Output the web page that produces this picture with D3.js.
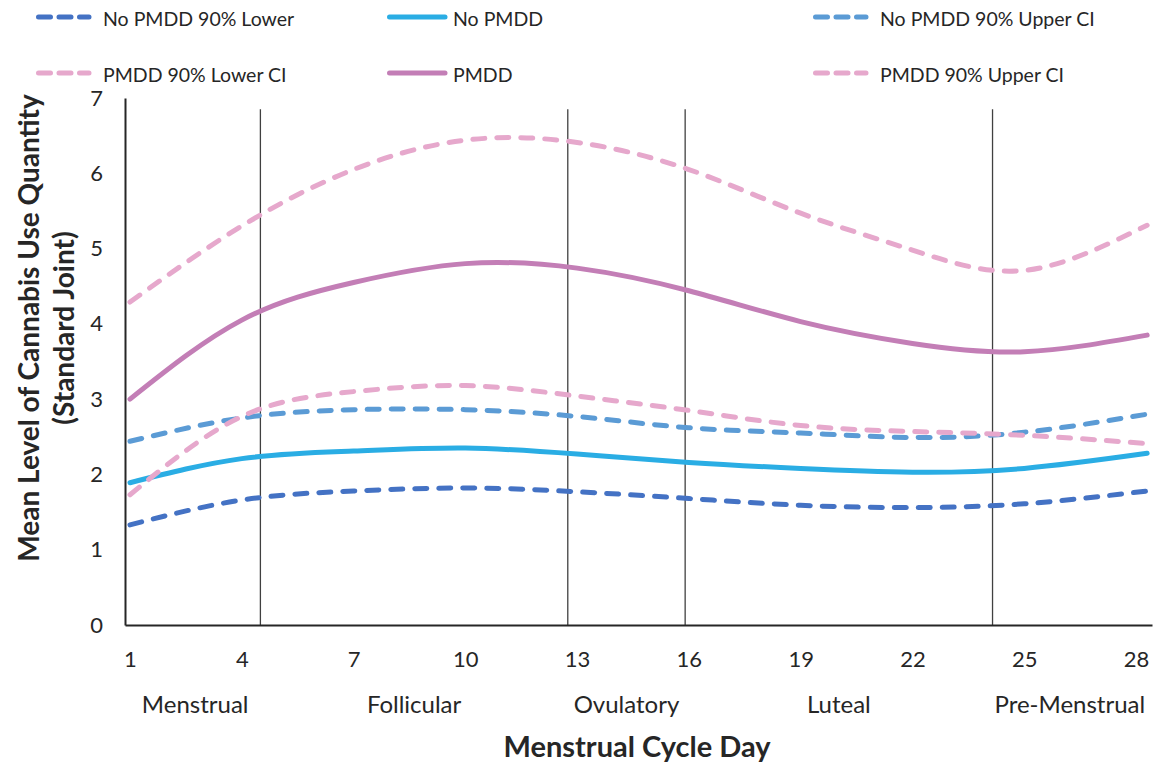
<!DOCTYPE html>
<html>
<head>
<meta charset="utf-8">
<script src="https://cdn.jsdelivr.net/npm/d3@7/dist/d3.min.js"></script>
<style>
  body { margin: 0; background: #fff; }
  text { font-family: Lato, "Open Sans", sans-serif; fill: #262626; }
</style>
</head>
<body>
<script>
const days = [1, 4, 7, 10, 13, 16, 19, 22, 25, 28.3];

const noPmddLower = [1.33, 1.66, 1.78, 1.82, 1.77, 1.68, 1.59, 1.56, 1.61, 1.78];
const noPmdd      = [1.89, 2.21, 2.31, 2.35, 2.27, 2.16, 2.08, 2.03, 2.08, 2.28];
const noPmddUpper = [2.44, 2.75, 2.86, 2.86, 2.77, 2.62, 2.55, 2.49, 2.56, 2.80];
const pmddLower   = [1.73, 2.77, 3.10, 3.18, 3.04, 2.85, 2.65, 2.57, 2.52, 2.41];
const pmdd        = [3.00, 4.05, 4.55, 4.80, 4.74, 4.44, 4.03, 3.74, 3.63, 3.85];
const pmddUpper   = [4.29, 5.30, 6.05, 6.44, 6.41, 6.05, 5.47, 4.98, 4.71, 5.31];

const xTicks = [1, 4, 7, 10, 13, 16, 19, 22, 25, 28];
const yTicks = [0, 1, 2, 3, 4, 5, 6, 7];

// phase boundaries (vertical lines) and names
const phaseBreaks = [4.5, 12.75, 15.9, 24.15];
const phaseNames = ["Menstrual", "Follicular", "Ovulatory", "Luteal", "Pre-Menstrual"];

const series = [
  {name: "No PMDD 90% Lower",    values: noPmddLower, color: "#4472c4", dashed: true,  col: 0, row: 0},
  {name: "No PMDD",              values: noPmdd,      color: "#2aade4", dashed: false, col: 1, row: 0},
  {name: "No PMDD 90% Upper CI", values: noPmddUpper, color: "#5b9bd5", dashed: true,  col: 2, row: 0},
  {name: "PMDD 90% Lower CI",    values: pmddLower,   color: "#e6a8cc", dashed: true,  col: 0, row: 1},
  {name: "PMDD",                 values: pmdd,        color: "#c37eb6", dashed: false, col: 1, row: 1},
  {name: "PMDD 90% Upper CI",    values: pmddUpper,   color: "#e6a8cc", dashed: true,  col: 2, row: 1}
];

const W = 1173, H = 763;
const svg = d3.select("body").append("svg")
  .attr("width", W)
  .attr("height", H);

const x = d3.scaleLinear().domain([0.866, 28.43]).range([125, 1152]);
const y = d3.scaleLinear().domain([0, 7]).range([625, 98]);

// phase divider lines
svg.selectAll(".phase-line")
  .data(phaseBreaks)
  .join("line")
  .attr("class", "phase-line")
  .attr("x1", d => x(d)).attr("x2", d => x(d))
  .attr("y1", y(6.85)).attr("y2", y(0))
  .attr("stroke", "#404040")
  .attr("stroke-width", 1.3);

// axes
const xAxis = svg.append("g")
  .attr("transform", "translate(0," + y(0) + ")")
  .call(d3.axisBottom(x).tickValues(xTicks).tickSize(0).tickPadding(26));
const yAxis = svg.append("g")
  .attr("transform", "translate(" + x(0.866) + ",0)")
  .call(d3.axisLeft(y).tickValues(yTicks).tickFormat(d3.format("d")).tickSize(0).tickPadding(22));

[xAxis, yAxis].forEach(a => {
  a.select(".domain").attr("stroke", "#262626").attr("stroke-width", 2);
  a.selectAll("text").style("font-size", "22px").attr("fill", "#262626");
});

// curves
const line = d3.line()
  .x((d, i) => x(days[i]))
  .y(d => y(d))
  .curve(d3.curveNatural);

svg.selectAll(".curve")
  .data(series)
  .join("path")
  .attr("class", "curve")
  .attr("d", d => line(d.values))
  .attr("fill", "none")
  .attr("stroke", d => d.color)
  .attr("stroke-width", 5)
  .attr("stroke-linecap", "round")
  .attr("stroke-dasharray", d => d.dashed ? "12 12" : null);

// phase labels under the day ticks
const phaseEdges = [days[0]].concat(phaseBreaks, [days[days.length - 1]]);
svg.selectAll(".phase-label")
  .data(phaseNames)
  .join("text")
  .attr("class", "phase-label")
  .attr("x", (d, i) => x((phaseEdges[i] + phaseEdges[i + 1]) / 2))
  .attr("y", 703)
  .attr("text-anchor", "middle")
  .attr("dominant-baseline", "central")
  .style("font-size", "24px")
  .text(d => d);

// axis titles
svg.append("text")
  .attr("x", 637).attr("y", 745)
  .attr("text-anchor", "middle")
  .attr("dominant-baseline", "central")
  .style("font-size", "29px")
  .style("font-weight", "bold")
  .text("Menstrual Cycle Day");

const yTitle = svg.append("g").attr("transform", "translate(0,328) rotate(-90)");
yTitle.append("text")
  .attr("x", 0).attr("y", 28)
  .attr("text-anchor", "middle")
  .attr("dominant-baseline", "central")
  .style("font-size", "28px")
  .style("font-weight", "bold")
  .text("Mean Level of Cannabis Use Quantity");
yTitle.append("text")
  .attr("x", 0).attr("y", 63)
  .attr("text-anchor", "middle")
  .attr("dominant-baseline", "central")
  .style("font-size", "28px")
  .style("font-weight", "bold")
  .text("(Standard Joint)");

// legend
const colX = [36, 387, 813];
const rowY = [17, 73];
const legend = svg.selectAll(".legend-item")
  .data(series)
  .join("g")
  .attr("class", "legend-item")
  .attr("transform", d => "translate(" + colX[d.col] + "," + rowY[d.row] + ")");

legend.append("line")
  .attr("x1", 2.5)
  .attr("x2", d => d.dashed ? 53 : 58)
  .attr("y1", 0).attr("y2", 0)
  .attr("stroke", d => d.color)
  .attr("stroke-width", 5)
  .attr("stroke-linecap", "round")
  .attr("stroke-dasharray", d => d.dashed ? "12 8.5" : null);

legend.append("text")
  .attr("x", d => d.dashed ? 67 : 66)
  .attr("y", 1)
  .attr("dominant-baseline", "central")
  .style("font-size", "19.5px")
  .text(d => d.name);
</script>
</body>
</html>
